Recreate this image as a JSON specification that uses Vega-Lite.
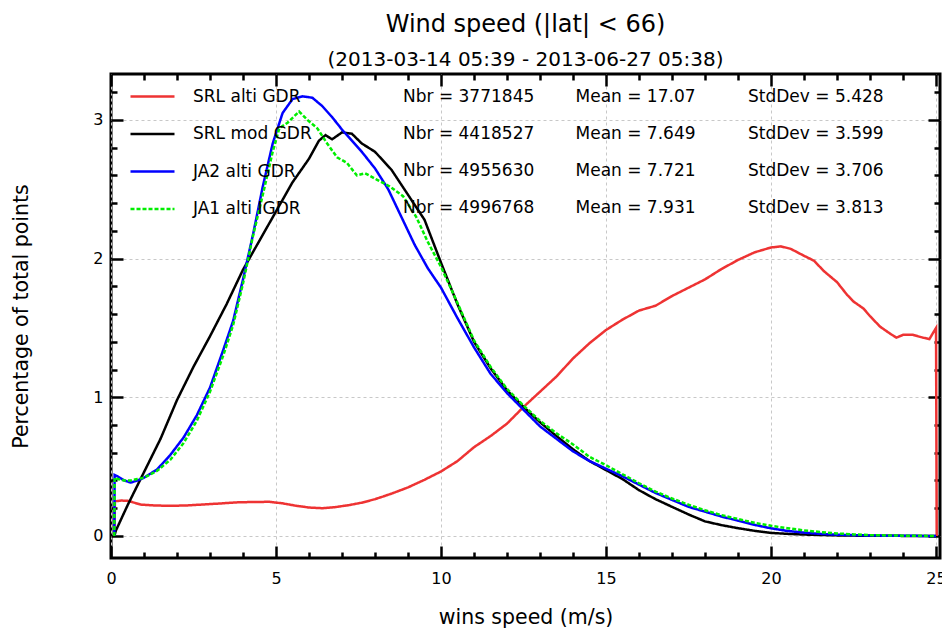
{
  "$schema": "https://vega.github.io/schema/vega-lite/v6.json",
  "width": 829,
  "height": 484,
  "autosize": {"type": "none"},
  "padding": {"left": 111, "top": 74, "right": 2, "bottom": 86},
  "background": "white",
  "config": {
    "view": {"stroke": "black", "strokeWidth": 3},
    "font": "DejaVu Sans",
    "axis": {"labelFont": "DejaVu Sans", "titleFont": "DejaVu Sans", "labelColor": "black", "titleColor": "black", "tickColor": "black"},
    "legend": {"labelFont": "DejaVu Sans", "labelFontSize": 17, "labelColor": "black"}
  },
  "title": {
    "text": "Wind speed (|lat| < 66)",
    "subtitle": "(2013-03-14 05:39 - 2013-06-27 05:38)",
    "fontSize": 24,
    "subtitleFontSize": 20,
    "fontWeight": "normal",
    "font": "DejaVu Sans",
    "subtitleFont": "DejaVu Sans",
    "color": "black",
    "subtitleColor": "black",
    "anchor": "middle",
    "offset": 2.5,
    "subtitlePadding": 13
  },
  "datasets": {
    "curves": [
      {"s": "SRL alti GDR", "v": 0.1, "p": 0},
      {"s": "SRL alti GDR", "v": 0.12, "p": 0.25},
      {"s": "SRL alti GDR", "v": 0.3, "p": 0.255},
      {"s": "SRL alti GDR", "v": 0.5, "p": 0.254},
      {"s": "SRL alti GDR", "v": 0.7, "p": 0.24},
      {"s": "SRL alti GDR", "v": 0.9, "p": 0.226},
      {"s": "SRL alti GDR", "v": 1.3, "p": 0.22},
      {"s": "SRL alti GDR", "v": 1.8, "p": 0.217},
      {"s": "SRL alti GDR", "v": 2.3, "p": 0.22},
      {"s": "SRL alti GDR", "v": 2.8, "p": 0.227},
      {"s": "SRL alti GDR", "v": 3.3, "p": 0.234},
      {"s": "SRL alti GDR", "v": 3.8, "p": 0.242},
      {"s": "SRL alti GDR", "v": 4.3, "p": 0.245},
      {"s": "SRL alti GDR", "v": 4.8, "p": 0.246},
      {"s": "SRL alti GDR", "v": 5.2, "p": 0.235},
      {"s": "SRL alti GDR", "v": 5.6, "p": 0.218},
      {"s": "SRL alti GDR", "v": 6.0, "p": 0.205},
      {"s": "SRL alti GDR", "v": 6.4, "p": 0.2},
      {"s": "SRL alti GDR", "v": 6.8, "p": 0.208},
      {"s": "SRL alti GDR", "v": 7.2, "p": 0.222},
      {"s": "SRL alti GDR", "v": 7.6, "p": 0.24},
      {"s": "SRL alti GDR", "v": 8.0, "p": 0.265},
      {"s": "SRL alti GDR", "v": 8.5, "p": 0.305},
      {"s": "SRL alti GDR", "v": 9.0, "p": 0.35},
      {"s": "SRL alti GDR", "v": 9.5, "p": 0.405},
      {"s": "SRL alti GDR", "v": 10.0, "p": 0.465},
      {"s": "SRL alti GDR", "v": 10.5, "p": 0.54},
      {"s": "SRL alti GDR", "v": 11.0, "p": 0.64},
      {"s": "SRL alti GDR", "v": 11.5, "p": 0.72},
      {"s": "SRL alti GDR", "v": 12.0, "p": 0.81},
      {"s": "SRL alti GDR", "v": 12.5, "p": 0.93},
      {"s": "SRL alti GDR", "v": 13.0, "p": 1.04},
      {"s": "SRL alti GDR", "v": 13.5, "p": 1.15},
      {"s": "SRL alti GDR", "v": 14.0, "p": 1.28},
      {"s": "SRL alti GDR", "v": 14.5, "p": 1.39},
      {"s": "SRL alti GDR", "v": 15.0, "p": 1.485},
      {"s": "SRL alti GDR", "v": 15.5, "p": 1.56},
      {"s": "SRL alti GDR", "v": 16.0, "p": 1.625},
      {"s": "SRL alti GDR", "v": 16.5, "p": 1.66},
      {"s": "SRL alti GDR", "v": 17.0, "p": 1.73},
      {"s": "SRL alti GDR", "v": 17.5, "p": 1.79},
      {"s": "SRL alti GDR", "v": 18.0, "p": 1.85},
      {"s": "SRL alti GDR", "v": 18.5, "p": 1.925},
      {"s": "SRL alti GDR", "v": 19.0, "p": 1.99},
      {"s": "SRL alti GDR", "v": 19.5, "p": 2.045},
      {"s": "SRL alti GDR", "v": 20.0, "p": 2.08},
      {"s": "SRL alti GDR", "v": 20.3, "p": 2.088},
      {"s": "SRL alti GDR", "v": 20.6, "p": 2.07},
      {"s": "SRL alti GDR", "v": 21.0, "p": 2.02},
      {"s": "SRL alti GDR", "v": 21.3, "p": 1.985},
      {"s": "SRL alti GDR", "v": 21.6, "p": 1.91},
      {"s": "SRL alti GDR", "v": 22.0, "p": 1.83},
      {"s": "SRL alti GDR", "v": 22.3, "p": 1.74},
      {"s": "SRL alti GDR", "v": 22.5, "p": 1.69},
      {"s": "SRL alti GDR", "v": 22.8, "p": 1.64},
      {"s": "SRL alti GDR", "v": 23.0, "p": 1.585},
      {"s": "SRL alti GDR", "v": 23.3, "p": 1.51},
      {"s": "SRL alti GDR", "v": 23.6, "p": 1.46},
      {"s": "SRL alti GDR", "v": 23.8, "p": 1.43},
      {"s": "SRL alti GDR", "v": 24.0, "p": 1.45},
      {"s": "SRL alti GDR", "v": 24.3, "p": 1.45},
      {"s": "SRL alti GDR", "v": 24.6, "p": 1.43},
      {"s": "SRL alti GDR", "v": 24.8, "p": 1.42},
      {"s": "SRL alti GDR", "v": 25.0, "p": 1.5},
      {"s": "SRL alti GDR", "v": 25.02, "p": 0},

      {"s": "SRL mod GDR", "v": 0.1, "p": 0},
      {"s": "SRL mod GDR", "v": 0.15, "p": 0.04},
      {"s": "SRL mod GDR", "v": 0.5, "p": 0.22},
      {"s": "SRL mod GDR", "v": 1.0, "p": 0.46},
      {"s": "SRL mod GDR", "v": 1.5, "p": 0.7},
      {"s": "SRL mod GDR", "v": 2.0, "p": 0.98},
      {"s": "SRL mod GDR", "v": 2.5, "p": 1.22},
      {"s": "SRL mod GDR", "v": 3.0, "p": 1.44},
      {"s": "SRL mod GDR", "v": 3.5, "p": 1.67},
      {"s": "SRL mod GDR", "v": 4.0, "p": 1.92},
      {"s": "SRL mod GDR", "v": 4.5, "p": 2.13},
      {"s": "SRL mod GDR", "v": 5.0, "p": 2.34},
      {"s": "SRL mod GDR", "v": 5.5, "p": 2.55},
      {"s": "SRL mod GDR", "v": 6.0, "p": 2.72},
      {"s": "SRL mod GDR", "v": 6.3, "p": 2.85},
      {"s": "SRL mod GDR", "v": 6.5, "p": 2.89},
      {"s": "SRL mod GDR", "v": 6.7, "p": 2.86},
      {"s": "SRL mod GDR", "v": 7.0, "p": 2.91},
      {"s": "SRL mod GDR", "v": 7.3, "p": 2.9},
      {"s": "SRL mod GDR", "v": 7.6, "p": 2.83},
      {"s": "SRL mod GDR", "v": 8.0, "p": 2.77},
      {"s": "SRL mod GDR", "v": 8.5, "p": 2.64},
      {"s": "SRL mod GDR", "v": 9.0, "p": 2.46},
      {"s": "SRL mod GDR", "v": 9.5, "p": 2.28},
      {"s": "SRL mod GDR", "v": 10.0, "p": 1.97},
      {"s": "SRL mod GDR", "v": 10.5, "p": 1.67},
      {"s": "SRL mod GDR", "v": 11.0, "p": 1.4},
      {"s": "SRL mod GDR", "v": 11.5, "p": 1.21},
      {"s": "SRL mod GDR", "v": 12.0, "p": 1.05},
      {"s": "SRL mod GDR", "v": 12.5, "p": 0.93},
      {"s": "SRL mod GDR", "v": 13.0, "p": 0.82},
      {"s": "SRL mod GDR", "v": 13.5, "p": 0.72},
      {"s": "SRL mod GDR", "v": 14.0, "p": 0.625},
      {"s": "SRL mod GDR", "v": 14.5, "p": 0.54},
      {"s": "SRL mod GDR", "v": 15.0, "p": 0.475},
      {"s": "SRL mod GDR", "v": 15.5, "p": 0.41},
      {"s": "SRL mod GDR", "v": 16.0, "p": 0.33},
      {"s": "SRL mod GDR", "v": 16.5, "p": 0.265},
      {"s": "SRL mod GDR", "v": 17.0, "p": 0.21},
      {"s": "SRL mod GDR", "v": 17.5, "p": 0.155},
      {"s": "SRL mod GDR", "v": 18.0, "p": 0.105},
      {"s": "SRL mod GDR", "v": 18.5, "p": 0.078},
      {"s": "SRL mod GDR", "v": 19.0, "p": 0.056},
      {"s": "SRL mod GDR", "v": 19.5, "p": 0.037},
      {"s": "SRL mod GDR", "v": 20.0, "p": 0.022},
      {"s": "SRL mod GDR", "v": 20.5, "p": 0.015},
      {"s": "SRL mod GDR", "v": 21.0, "p": 0.01},
      {"s": "SRL mod GDR", "v": 22.0, "p": 0.004},
      {"s": "SRL mod GDR", "v": 23.0, "p": 0.001},
      {"s": "SRL mod GDR", "v": 25.0, "p": 0},

      {"s": "JA2 alti GDR", "v": 0.1, "p": 0},
      {"s": "JA2 alti GDR", "v": 0.11, "p": 0.44},
      {"s": "JA2 alti GDR", "v": 0.2, "p": 0.43},
      {"s": "JA2 alti GDR", "v": 0.4, "p": 0.4},
      {"s": "JA2 alti GDR", "v": 0.6, "p": 0.385},
      {"s": "JA2 alti GDR", "v": 0.8, "p": 0.4},
      {"s": "JA2 alti GDR", "v": 1.0, "p": 0.42},
      {"s": "JA2 alti GDR", "v": 1.4, "p": 0.48},
      {"s": "JA2 alti GDR", "v": 1.8, "p": 0.585},
      {"s": "JA2 alti GDR", "v": 2.2, "p": 0.71},
      {"s": "JA2 alti GDR", "v": 2.6, "p": 0.87},
      {"s": "JA2 alti GDR", "v": 3.0, "p": 1.07},
      {"s": "JA2 alti GDR", "v": 3.4, "p": 1.34},
      {"s": "JA2 alti GDR", "v": 3.7, "p": 1.55},
      {"s": "JA2 alti GDR", "v": 4.0, "p": 1.85},
      {"s": "JA2 alti GDR", "v": 4.3, "p": 2.17},
      {"s": "JA2 alti GDR", "v": 4.6, "p": 2.52},
      {"s": "JA2 alti GDR", "v": 4.9, "p": 2.83},
      {"s": "JA2 alti GDR", "v": 5.2, "p": 3.05},
      {"s": "JA2 alti GDR", "v": 5.5, "p": 3.15},
      {"s": "JA2 alti GDR", "v": 5.8, "p": 3.17},
      {"s": "JA2 alti GDR", "v": 6.1, "p": 3.16},
      {"s": "JA2 alti GDR", "v": 6.4, "p": 3.1},
      {"s": "JA2 alti GDR", "v": 6.7, "p": 3.02},
      {"s": "JA2 alti GDR", "v": 7.0, "p": 2.93},
      {"s": "JA2 alti GDR", "v": 7.3, "p": 2.85},
      {"s": "JA2 alti GDR", "v": 7.6, "p": 2.77},
      {"s": "JA2 alti GDR", "v": 8.0, "p": 2.65},
      {"s": "JA2 alti GDR", "v": 8.4, "p": 2.5},
      {"s": "JA2 alti GDR", "v": 8.8, "p": 2.3},
      {"s": "JA2 alti GDR", "v": 9.2, "p": 2.1},
      {"s": "JA2 alti GDR", "v": 9.6, "p": 1.93},
      {"s": "JA2 alti GDR", "v": 10.0, "p": 1.79},
      {"s": "JA2 alti GDR", "v": 10.5, "p": 1.57},
      {"s": "JA2 alti GDR", "v": 11.0, "p": 1.36},
      {"s": "JA2 alti GDR", "v": 11.5, "p": 1.17},
      {"s": "JA2 alti GDR", "v": 12.0, "p": 1.03},
      {"s": "JA2 alti GDR", "v": 12.5, "p": 0.91},
      {"s": "JA2 alti GDR", "v": 13.0, "p": 0.79},
      {"s": "JA2 alti GDR", "v": 13.5, "p": 0.7},
      {"s": "JA2 alti GDR", "v": 14.0, "p": 0.61},
      {"s": "JA2 alti GDR", "v": 14.5, "p": 0.54},
      {"s": "JA2 alti GDR", "v": 15.0, "p": 0.485},
      {"s": "JA2 alti GDR", "v": 15.5, "p": 0.43},
      {"s": "JA2 alti GDR", "v": 16.0, "p": 0.37},
      {"s": "JA2 alti GDR", "v": 16.5, "p": 0.31},
      {"s": "JA2 alti GDR", "v": 17.0, "p": 0.26},
      {"s": "JA2 alti GDR", "v": 17.5, "p": 0.21},
      {"s": "JA2 alti GDR", "v": 18.0, "p": 0.175},
      {"s": "JA2 alti GDR", "v": 18.5, "p": 0.14},
      {"s": "JA2 alti GDR", "v": 19.0, "p": 0.11},
      {"s": "JA2 alti GDR", "v": 19.5, "p": 0.08},
      {"s": "JA2 alti GDR", "v": 20.0, "p": 0.055},
      {"s": "JA2 alti GDR", "v": 20.5, "p": 0.036},
      {"s": "JA2 alti GDR", "v": 21.0, "p": 0.024},
      {"s": "JA2 alti GDR", "v": 21.5, "p": 0.015},
      {"s": "JA2 alti GDR", "v": 22.0, "p": 0.009},
      {"s": "JA2 alti GDR", "v": 23.0, "p": 0.003},
      {"s": "JA2 alti GDR", "v": 24.0, "p": 0.001},
      {"s": "JA2 alti GDR", "v": 25.0, "p": 0},

      {"s": "JA1 alti IGDR", "v": 0.1, "p": 0},
      {"s": "JA1 alti IGDR", "v": 0.11, "p": 0.42},
      {"s": "JA1 alti IGDR", "v": 0.2, "p": 0.41},
      {"s": "JA1 alti IGDR", "v": 0.4, "p": 0.4},
      {"s": "JA1 alti IGDR", "v": 0.6, "p": 0.4},
      {"s": "JA1 alti IGDR", "v": 0.8, "p": 0.41},
      {"s": "JA1 alti IGDR", "v": 1.0, "p": 0.42},
      {"s": "JA1 alti IGDR", "v": 1.4, "p": 0.47},
      {"s": "JA1 alti IGDR", "v": 1.8, "p": 0.55},
      {"s": "JA1 alti IGDR", "v": 2.2, "p": 0.67},
      {"s": "JA1 alti IGDR", "v": 2.6, "p": 0.83},
      {"s": "JA1 alti IGDR", "v": 3.0, "p": 1.04},
      {"s": "JA1 alti IGDR", "v": 3.4, "p": 1.3},
      {"s": "JA1 alti IGDR", "v": 3.7, "p": 1.52},
      {"s": "JA1 alti IGDR", "v": 4.0, "p": 1.82},
      {"s": "JA1 alti IGDR", "v": 4.3, "p": 2.16},
      {"s": "JA1 alti IGDR", "v": 4.6, "p": 2.46},
      {"s": "JA1 alti IGDR", "v": 4.9, "p": 2.77},
      {"s": "JA1 alti IGDR", "v": 5.1, "p": 2.94},
      {"s": "JA1 alti IGDR", "v": 5.35, "p": 2.98},
      {"s": "JA1 alti IGDR", "v": 5.7, "p": 3.06},
      {"s": "JA1 alti IGDR", "v": 5.95, "p": 3.0},
      {"s": "JA1 alti IGDR", "v": 6.25, "p": 2.94},
      {"s": "JA1 alti IGDR", "v": 6.55, "p": 2.83},
      {"s": "JA1 alti IGDR", "v": 6.85, "p": 2.73},
      {"s": "JA1 alti IGDR", "v": 7.15, "p": 2.69},
      {"s": "JA1 alti IGDR", "v": 7.45, "p": 2.6},
      {"s": "JA1 alti IGDR", "v": 7.7, "p": 2.615},
      {"s": "JA1 alti IGDR", "v": 8.05, "p": 2.57},
      {"s": "JA1 alti IGDR", "v": 8.45, "p": 2.52},
      {"s": "JA1 alti IGDR", "v": 8.85, "p": 2.45},
      {"s": "JA1 alti IGDR", "v": 9.25, "p": 2.3},
      {"s": "JA1 alti IGDR", "v": 9.6, "p": 2.12},
      {"s": "JA1 alti IGDR", "v": 10.0, "p": 1.94},
      {"s": "JA1 alti IGDR", "v": 10.5, "p": 1.68},
      {"s": "JA1 alti IGDR", "v": 11.0, "p": 1.41},
      {"s": "JA1 alti IGDR", "v": 11.5, "p": 1.22},
      {"s": "JA1 alti IGDR", "v": 12.0, "p": 1.06},
      {"s": "JA1 alti IGDR", "v": 12.5, "p": 0.94},
      {"s": "JA1 alti IGDR", "v": 13.0, "p": 0.83},
      {"s": "JA1 alti IGDR", "v": 13.5, "p": 0.74},
      {"s": "JA1 alti IGDR", "v": 14.0, "p": 0.66},
      {"s": "JA1 alti IGDR", "v": 14.5, "p": 0.57},
      {"s": "JA1 alti IGDR", "v": 15.0, "p": 0.51},
      {"s": "JA1 alti IGDR", "v": 15.5, "p": 0.445},
      {"s": "JA1 alti IGDR", "v": 16.0, "p": 0.38},
      {"s": "JA1 alti IGDR", "v": 16.5, "p": 0.32},
      {"s": "JA1 alti IGDR", "v": 17.0, "p": 0.27},
      {"s": "JA1 alti IGDR", "v": 17.5, "p": 0.225},
      {"s": "JA1 alti IGDR", "v": 18.0, "p": 0.185},
      {"s": "JA1 alti IGDR", "v": 18.5, "p": 0.15},
      {"s": "JA1 alti IGDR", "v": 19.0, "p": 0.122},
      {"s": "JA1 alti IGDR", "v": 19.5, "p": 0.095},
      {"s": "JA1 alti IGDR", "v": 20.0, "p": 0.073},
      {"s": "JA1 alti IGDR", "v": 20.5, "p": 0.056},
      {"s": "JA1 alti IGDR", "v": 21.0, "p": 0.04},
      {"s": "JA1 alti IGDR", "v": 21.5, "p": 0.028},
      {"s": "JA1 alti IGDR", "v": 22.0, "p": 0.018},
      {"s": "JA1 alti IGDR", "v": 22.5, "p": 0.011},
      {"s": "JA1 alti IGDR", "v": 23.0, "p": 0.006},
      {"s": "JA1 alti IGDR", "v": 24.0, "p": 0.002},
      {"s": "JA1 alti IGDR", "v": 25.0, "p": 0}
    ],
    "stats": [
      {"s": "SRL alti GDR", "stat": "Nbr", "label": "Nbr = 3771845"},
      {"s": "SRL alti GDR", "stat": "Mean", "label": "Mean = 17.07"},
      {"s": "SRL alti GDR", "stat": "StdDev", "label": "StdDev = 5.428"},
      {"s": "SRL mod GDR", "stat": "Nbr", "label": "Nbr = 4418527"},
      {"s": "SRL mod GDR", "stat": "Mean", "label": "Mean = 7.649"},
      {"s": "SRL mod GDR", "stat": "StdDev", "label": "StdDev = 3.599"},
      {"s": "JA2 alti GDR", "stat": "Nbr", "label": "Nbr = 4955630"},
      {"s": "JA2 alti GDR", "stat": "Mean", "label": "Mean = 7.721"},
      {"s": "JA2 alti GDR", "stat": "StdDev", "label": "StdDev = 3.706"},
      {"s": "JA1 alti IGDR", "stat": "Nbr", "label": "Nbr = 4996768"},
      {"s": "JA1 alti IGDR", "stat": "Mean", "label": "Mean = 7.931"},
      {"s": "JA1 alti IGDR", "stat": "StdDev", "label": "StdDev = 3.813"}
    ]
  },
  "layer": [
    {
      "layer": [
        {
          "data": {"name": "curves"},
          "mark": {"type": "line", "strokeWidth": 2.5, "clip": true},
          "encoding": {
            "x": {
              "field": "v", "type": "quantitative",
              "scale": {"domain": [0, 25.12], "nice": false, "zero": false},
              "axis": {
                "orient": "bottom", "values": [0, 5, 10, 15, 20, 25], "ticks": false, "domain": false,
                "grid": true, "gridColor": "#c8c8c8", "gridDash": [3, 3], "gridWidth": 1,
                "labelFontSize": 16, "labelPadding": 12, "labelFlush": false, "labelOverlap": false,
                "title": "wins speed (m/s)", "titleFontSize": 20.5, "titleFontWeight": "normal", "titlePadding": 21
              }
            },
            "y": {
              "field": "p", "type": "quantitative",
              "scale": {"domain": [-0.159, 3.331], "nice": false, "zero": false},
              "axis": {
                "orient": "left", "values": [0, 1, 2, 3], "ticks": false, "domain": false,
                "grid": true, "gridColor": "#c8c8c8", "gridDash": [3, 3], "gridWidth": 1,
                "labelFontSize": 16, "labelPadding": 8, "labelFlush": false, "labelOverlap": false,
                "title": "Percentage of total points", "titleFontSize": 20.5, "titleFontWeight": "normal", "titlePadding": 61
              }
            },
            "color": {
              "field": "s", "type": "nominal",
              "scale": {
                "domain": ["SRL alti GDR", "SRL mod GDR", "JA2 alti GDR", "JA1 alti IGDR"],
                "range": ["#ee3333", "#000000", "#0000ff", "#00ee00"]
              },
              "legend": {
                "orient": "none", "legendX": 29, "legendY": 10, "title": null,
                "symbolType": "M-2,0H2", "symbolSize": 484, "symbolStrokeWidth": 2.5,
                "labelFontSize": 17, "labelFont": "DejaVu Sans", "labelColor": "black",
                "labelOffset": 28, "rowPadding": 16.5, "padding": 0
              }
            },
            "strokeDash": {
              "field": "s", "type": "nominal",
              "scale": {
                "domain": ["SRL alti GDR", "SRL mod GDR", "JA2 alti GDR", "JA1 alti IGDR"],
                "range": [[1, 0], [1, 0], [1, 0], [4, 2]]
              },
              "legend": {
                "orient": "none", "legendX": 29, "legendY": 10, "title": null,
                "symbolType": "M-2,0H2", "symbolSize": 484, "symbolStrokeWidth": 2.5,
                "labelFontSize": 17, "labelFont": "DejaVu Sans", "labelColor": "black",
                "labelOffset": 28, "rowPadding": 16.5, "padding": 0
              }
            }
          }
        },
        {
          "data": {"values": [{"a": 1}]},
          "mark": {"type": "point", "opacity": 0},
          "encoding": {
            "x": {
              "datum": 0, "type": "quantitative",
              "scale": {"domain": [0, 25.12], "nice": false, "zero": false},
              "axis": {"orient": "bottom", "values": [0, 5, 10, 15, 20, 25], "labels": false, "grid": false, "domain": false, "tickSize": -12, "tickWidth": 2.5, "title": null}
            },
            "y": {
              "datum": 0, "type": "quantitative",
              "scale": {"domain": [-0.159, 3.331], "nice": false, "zero": false},
              "axis": {"orient": "left", "values": [0, 1, 2, 3], "labels": false, "grid": false, "domain": false, "tickSize": -12, "tickWidth": 2.5, "title": null}
            }
          }
        },
        {
          "data": {"values": [{"a": 1}]},
          "mark": {"type": "point", "opacity": 0},
          "encoding": {
            "x": {
              "datum": 0, "type": "quantitative",
              "scale": {"domain": [0, 25.12], "nice": false, "zero": false},
              "axis": {"orient": "bottom", "values": [1, 2, 3, 4, 6, 7, 8, 9, 11, 12, 13, 14, 16, 17, 18, 19, 21, 22, 23, 24], "labels": false, "grid": false, "domain": false, "tickSize": -6, "tickWidth": 2.5, "title": null}
            },
            "y": {
              "datum": 0, "type": "quantitative",
              "scale": {"domain": [-0.159, 3.331], "nice": false, "zero": false},
              "axis": {"orient": "left", "values": [0.2, 0.4, 0.6, 0.8, 1.2, 1.4, 1.6, 1.8, 2.2, 2.4, 2.6, 2.8, 3.2], "labels": false, "grid": false, "domain": false, "tickSize": -6, "tickWidth": 2.5, "title": null}
            }
          }
        },
        {
          "data": {"values": [{"a": 1}]},
          "mark": {"type": "point", "opacity": 0},
          "encoding": {
            "x": {
              "datum": 0, "type": "quantitative",
              "scale": {"domain": [0, 25.12], "nice": false, "zero": false},
              "axis": {"orient": "top", "values": [0, 5, 10, 15, 20, 25], "labels": false, "grid": false, "domain": false, "tickSize": -12, "tickWidth": 2.5, "title": null}
            },
            "y": {
              "datum": 0, "type": "quantitative",
              "scale": {"domain": [-0.159, 3.331], "nice": false, "zero": false},
              "axis": {"orient": "right", "values": [0, 1, 2, 3], "labels": false, "grid": false, "domain": false, "tickSize": -12, "tickWidth": 2.5, "title": null}
            }
          }
        },
        {
          "data": {"values": [{"a": 1}]},
          "mark": {"type": "point", "opacity": 0},
          "encoding": {
            "x": {
              "datum": 0, "type": "quantitative",
              "scale": {"domain": [0, 25.12], "nice": false, "zero": false},
              "axis": {"orient": "top", "values": [1, 2, 3, 4, 6, 7, 8, 9, 11, 12, 13, 14, 16, 17, 18, 19, 21, 22, 23, 24], "labels": false, "grid": false, "domain": false, "tickSize": -6, "tickWidth": 2.5, "title": null}
            },
            "y": {
              "datum": 0, "type": "quantitative",
              "scale": {"domain": [-0.159, 3.331], "nice": false, "zero": false},
              "axis": {"orient": "right", "values": [0.2, 0.4, 0.6, 0.8, 1.2, 1.4, 1.6, 1.8, 2.2, 2.4, 2.6, 2.8, 3.2], "labels": false, "grid": false, "domain": false, "tickSize": -6, "tickWidth": 2.5, "title": null}
            }
          }
        }
      ],
      "resolve": {"axis": {"x": "independent", "y": "independent"}}
    },
    {
      "data": {"name": "stats"},
      "mark": {"type": "text", "align": "left", "baseline": "middle", "fontSize": 17, "font": "DejaVu Sans", "color": "black"},
      "encoding": {
        "x": {"field": "stat", "type": "nominal", "scale": {"type": "point", "domain": ["Nbr", "Mean", "StdDev"], "range": [292, 637], "padding": 0}, "axis": null},
        "y": {"field": "s", "type": "nominal", "scale": {"type": "point", "domain": ["SRL alti GDR", "SRL mod GDR", "JA2 alti GDR", "JA1 alti IGDR"], "range": [23, 134], "padding": 0}, "axis": null},
        "text": {"field": "label"}
      }
    }
  ],
  "resolve": {"scale": {"x": "independent", "y": "independent"}}
}
